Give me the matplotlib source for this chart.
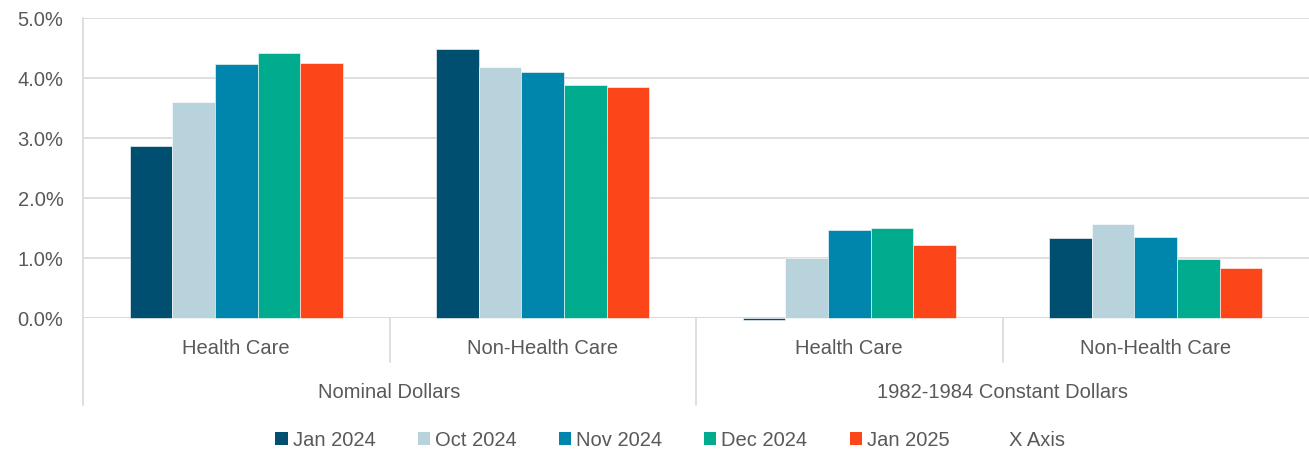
import numpy as np
import matplotlib.pyplot as plt
from matplotlib.patches import Patch
from matplotlib.transforms import blended_transform_factory

# data (percent)
categories = ["Health Care", "Non-Health Care", "Health Care", "Non-Health Care"]
groups = ["Nominal Dollars", "1982-1984 Constant Dollars"]
series = ["Jan 2024", "Oct 2024", "Nov 2024", "Dec 2024", "Jan 2025"]
jan_2024 = [2.87, 4.48, -0.03, 1.33]
oct_2024 = [3.60, 4.18, 1.00, 1.57]
nov_2024 = [4.23, 4.10, 1.47, 1.35]
dec_2024 = [4.42, 3.88, 1.50, 0.98]
jan_2025 = [4.25, 3.85, 1.22, 0.83]
values = [jan_2024, oct_2024, nov_2024, dec_2024, jan_2025]
colors = ["#004f71", "#b9d3dc", "#0086ad", "#00ab8e", "#fc4619"]

plt.rcParams['font.family'] = ['Liberation Sans', 'DejaVu Sans']
text_col = "#595959"
grid_col = "#d9d9d9"
fs = 14.5

fig = plt.figure(figsize=(13.09, 4.55), dpi=100)
ax = fig.add_axes([83 / 1309, 1 - 318 / 455, 1 - 83 / 1309, 300 / 455])

x = np.arange(len(categories))
width = 0.695 / len(series)
for i, (vals, col) in enumerate(zip(values, colors)):
    offs = (i - (len(series) - 1) / 2) * width
    ax.bar(x + offs, vals, width, color=col, edgecolor="white", linewidth=0.4,
           zorder=3, clip_on=False)

ax.set_xlim(-0.5, len(categories) - 0.5)
ax.set_ylim(0, 5)
ax.set_yticks(np.arange(0, 5.01, 1))
ax.set_yticklabels([f"{v:.1f}%" for v in np.arange(0, 5.01, 1)], fontsize=fs, color=text_col)
ax.tick_params(axis="y", length=0, pad=14)
ax.set_xticks([])
ax.grid(axis="y", color=grid_col, linewidth=1.2, zorder=0)
for s in ["top", "right", "bottom", "left"]:
    ax.spines[s].set_visible(False)
ax.axhline(0, color=grid_col, linewidth=1.2, zorder=2)

# multi-level category axis
tr = blended_transform_factory(ax.transData, ax.transAxes)
inner = -44 / 300
outer = -87 / 300
ax.plot([-0.5, -0.5], [1, outer], transform=tr, color=grid_col, linewidth=1.2, clip_on=False)
ax.plot([1.5, 1.5], [0, outer], transform=tr, color=grid_col, linewidth=1.2, clip_on=False)
for b in [0.5, 2.5]:
    ax.plot([b, b], [0, inner], transform=tr, color=grid_col, linewidth=1.2, clip_on=False)
for xi, lab in zip(x, categories):
    ax.text(xi, -31 / 300, lab, transform=tr, ha="center", va="center",
            fontsize=fs, color=text_col)
for gi, lab in enumerate(groups):
    ax.text(gi * 2 + 0.5, -75 / 300, lab, transform=tr, ha="center", va="center",
            fontsize=fs, color=text_col)

handles = [Patch(facecolor=c, edgecolor="none") for c in colors]
handles.append(Patch(facecolor="none", edgecolor="none"))
labels = series + ["X Axis"]
fig.legend(handles, labels, loc="center", bbox_to_anchor=(0.512, 1 - 440 / 455), ncol=6,
           frameon=False, fontsize=fs, labelcolor=text_col, handlelength=0.6,
           handleheight=0.6, handletextpad=0.25, columnspacing=2.1)

fig.savefig("out.png", dpi=100)
